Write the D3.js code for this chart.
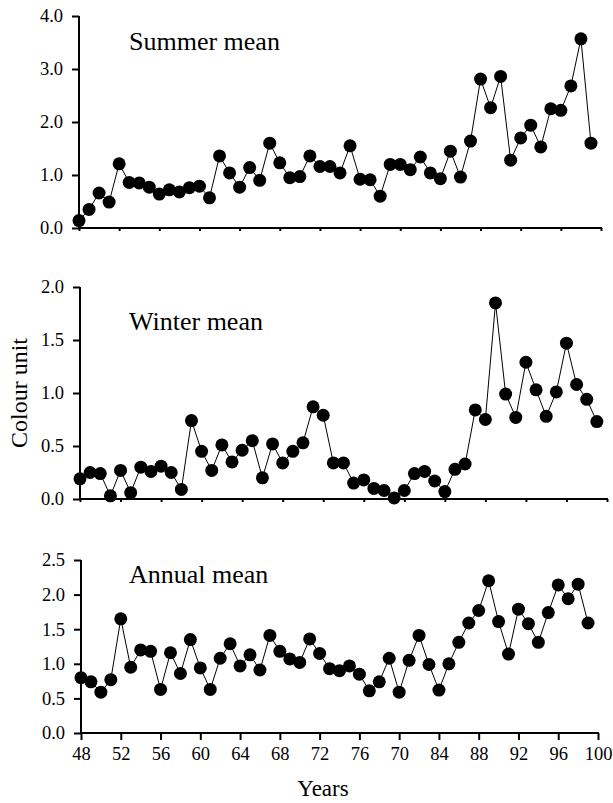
<!DOCTYPE html>
<html>
<head>
<meta charset="utf-8">
<script src="https://cdn.jsdelivr.net/npm/d3@7"></script>
<style>
  body { margin: 0; background: #fff; }
  svg { display: block; }
  text { font-family: "Liberation Serif", "Times New Roman", serif; fill: #000; }
</style>
</head>
<body>
<div id="chart"></div>
<script>
const years = [48, 49, 50, 51, 52, 53, 54, 55, 56, 57, 58, 59, 60, 61, 62, 63, 64, 65, 66, 67,
  68, 69, 70, 71, 72, 73, 74, 75, 76, 77, 78, 79, 80, 81, 82, 83, 84, 85, 86, 87,
  88, 89, 90, 91, 92, 93, 94, 95, 96, 97, 98, 99];

const summer = [0.14, 0.35, 0.66, 0.49, 1.21, 0.86, 0.85, 0.77, 0.64, 0.72, 0.68, 0.76, 0.79, 0.57,
  1.36, 1.04, 0.77, 1.14, 0.90, 1.60, 1.23, 0.95, 0.97, 1.36, 1.16, 1.16, 1.04, 1.55,
  0.92, 0.91, 0.60, 1.20, 1.20, 1.10, 1.34, 1.04, 0.93, 1.45, 0.96, 1.64, 2.81, 2.27,
  2.86, 1.28, 1.70, 1.94, 1.53, 2.25, 2.22, 2.68, 3.57, 1.60];

const winter = [0.19, 0.25, 0.24, 0.03, 0.27, 0.06, 0.30, 0.26, 0.31, 0.25, 0.09, 0.74, 0.45, 0.27,
  0.51, 0.35, 0.46, 0.55, 0.20, 0.52, 0.34, 0.45, 0.53, 0.87, 0.79, 0.34, 0.34, 0.15,
  0.18, 0.10, 0.08, 0.01, 0.08, 0.24, 0.26, 0.17, 0.07, 0.28, 0.33, 0.84, 0.75, 1.85,
  0.99, 0.77, 1.29, 1.03, 0.78, 1.01, 1.47, 1.08, 0.94, 0.73];

const annual = [0.80, 0.74, 0.59, 0.77, 1.65, 0.95, 1.20, 1.18, 0.63, 1.16, 0.86, 1.35, 0.94, 0.63,
  1.08, 1.29, 0.97, 1.13, 0.91, 1.41, 1.18, 1.07, 1.02, 1.36, 1.15, 0.93, 0.90, 0.97,
  0.85, 0.61, 0.74, 1.08, 0.59, 1.05, 1.41, 0.99, 0.62, 1.00, 1.31, 1.59, 1.77, 2.20,
  1.61, 1.14, 1.79, 1.58, 1.31, 1.74, 2.14, 1.94, 2.15, 1.59];

const xTickYears = [48, 52, 56, 60, 64, 68, 72, 76, 80, 84, 88, 92, 96, 100];
const xTickLabels = ["48", "52", "56", "60", "64", "68", "72", "76", "70", "84", "88", "92", "96", "100"];

const panelTitles = ["Summer mean", "Winter mean", "Annual mean"];
const panelSeries = [summer, winter, annual];
const panelYMax = [4.0, 2.0, 2.5];
const panelYTicks = [[0, 1, 2, 3, 4], [0, 0.5, 1, 1.5, 2], [0, 0.5, 1, 1.5, 2, 2.5]];

const width = 613, height = 803;

// pixel boxes of the three panels
const boxes = [
  {left: 79, right: 601, top: 16, bottom: 228, tick: 3, titleY: 50},
  {left: 80, right: 607, top: 287, bottom: 499, tick: 3, titleY: 330},
  {left: 81, right: 598, top: 560, bottom: 733, tick: 7, titleY: 583}
];

const svg = d3.select("#chart").append("svg")
  .attr("width", width)
  .attr("height", height);

panelSeries.forEach((series, p) => {
  const b = boxes[p];
  const x = d3.scaleLinear().domain([48, 100]).range([b.left, b.right]);
  const y = d3.scaleLinear().domain([0, panelYMax[p]]).range([b.bottom, b.top]);

  const g = svg.append("g");

  // x axis
  const xAxis = d3.axisBottom(x)
    .tickValues(xTickYears)
    .tickSizeInner(b.tick)
    .tickSizeOuter(0)
    .tickFormat((d, i) => p === 2 ? xTickLabels[i] : "");
  const gx = g.append("g")
    .attr("transform", `translate(0,${b.bottom})`)
    .call(xAxis);
  gx.select(".domain").attr("stroke", "#000").attr("stroke-width", 2)
    .attr("d", `M${b.left - 1},0H${b.right + 1}`);
  gx.selectAll(".tick line").attr("stroke", "#000").attr("stroke-width", 2);
  gx.selectAll(".tick text")
    .attr("font-size", 18.5)
    .attr("font-family", "Liberation Serif")
    .attr("y", 14);

  // y axis
  const yAxis = d3.axisLeft(y)
    .tickValues(panelYTicks[p])
    .tickSizeInner(7)
    .tickSizeOuter(0)
    .tickFormat(d3.format(".1f"));
  const gy = g.append("g")
    .attr("transform", `translate(${b.left},0)`)
    .call(yAxis);
  gy.select(".domain").attr("stroke", "#000").attr("stroke-width", 2)
    .attr("d", `M0,${b.top}V${b.bottom + 1}`);
  gy.selectAll(".tick line").attr("stroke", "#000").attr("stroke-width", 2);
  gy.selectAll(".tick text")
    .attr("font-size", 18.5)
    .attr("font-family", "Liberation Serif")
    .attr("x", -16);

  // series line and dots
  const line = d3.line()
    .x((d, i) => x(years[i]))
    .y(d => y(d));
  g.append("path")
    .datum(series)
    .attr("fill", "none")
    .attr("stroke", "#000")
    .attr("stroke-width", 1)
    .attr("d", line);

  g.selectAll("circle")
    .data(series)
    .enter()
    .append("circle")
    .attr("cx", (d, i) => x(years[i]))
    .attr("cy", d => y(d))
    .attr("r", 6.5)
    .attr("fill", "#000");

  g.append("text")
    .attr("x", 129)
    .attr("y", b.titleY)
    .attr("font-size", 26)
    .text(panelTitles[p]);
});

svg.append("text")
  .attr("transform", "translate(27,393) rotate(-90)")
  .attr("text-anchor", "middle")
  .attr("font-size", 24)
  .text("Colour unit");

svg.append("text")
  .attr("x", 323)
  .attr("y", 796)
  .attr("text-anchor", "middle")
  .attr("font-size", 23)
  .text("Years");
</script>
</body>
</html>
